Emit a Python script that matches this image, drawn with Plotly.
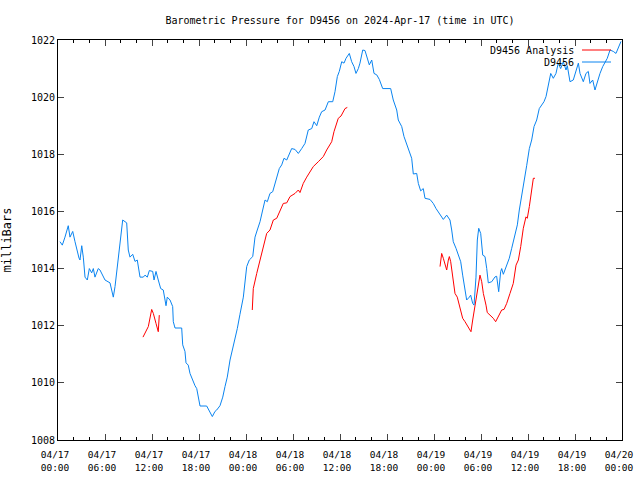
import pandas as pd
import plotly.graph_objects as go

# Hours since 2024-04-17 00:00 UTC and pressure (mb)
obs_hours = [0.26,0.55,0.89,1.31,1.53,1.88,2.17,2.39,2.68,2.81,3.03,3.23,3.45,3.74,4.0,4.30,4.51,4.72,5.14,5.36,
             6.0,6.64,7.06,7.28,7.70,8.0,8.26,8.77,8.97,9.19,9.54,9.83,10.12,10.47,10.89,11.11,11.40,11.66,12.09,12.26,
             12.51,12.80,13.11,13.44,13.79,13.95,14.30,14.64,14.72,14.94,15.79,15.92,16.21,16.34,16.63,16.85,17.07,17.49,17.71,17.91,
             18.13,18.98,19.40,19.70,20.04,20.26,20.68,21.03,21.32,21.61,21.96,22.30,22.60,22.89,23.23,23.66,24.09,24.42,24.86,25.15,
             25.44,25.79,26.13,26.43,26.72,27.06,27.41,27.70,28.0,28.25,28.56,28.85,29.20,29.53,29.83,30.26,30.68,31.11,31.53,31.95,
             32.39,32.68,33.03,33.36,33.66,34.09,34.51,35.07,35.36,35.66,35.91,36.22,36.51,36.77,37.19,37.49,37.79,38.04,38.34,38.55,
             38.90,39.19,39.49,39.74,40.05,40.34,40.69,41.02,41.45,42.47,42.80,43.24,43.44,43.88,44.17,44.51,44.94,45.15,45.36,45.79,
             46.0,46.30,46.63,46.85,47.49,47.91,48.26,48.68,48.98,49.19,49.62,50.04,50.26,50.46,50.81,51.10,51.41,51.66,51.96,52.17,
             52.51,52.68,52.94,53.11,53.36,53.53,53.71,53.96,54.22,54.51,54.73,54.93,55.37,55.79,56.0,56.08,56.26,56.51,56.64,56.85,
             57.19,57.61,57.92,58.34,58.64,58.89,59.20,59.49,59.83,60.17,60.47,60.77,61.11,61.44,61.75,62.04,62.30,62.59,62.90,63.23,
             63.57,63.86,64.17,64.51,64.85,65.02,65.36,65.78,66.22,66.43,66.64,67.06,67.40,67.70,67.91,68.26,68.55,68.85,69.19,69.54,
             69.83,70.12,70.47,70.89,71.23,71.53,71.74,71.87]
obs_mb = [1014.94,1014.82,1015.1,1015.5,1015.1,1015.3,1014.94,1014.65,1014.37,1014.3,1014.8,1014.4,1013.7,1013.6,1014.0,1013.85,1014.0,1013.7,1014.0,1013.95,
          1013.6,1013.5,1013.0,1013.37,1014.3,1015.0,1015.7,1015.6,1014.65,1014.4,1014.5,1014.25,1014.3,1013.7,1013.7,1013.77,1013.7,1013.93,1013.9,1013.6,
          1013.9,1013.6,1013.3,1013.25,1012.7,1013.0,1012.9,1012.67,1012.14,1011.92,1011.92,1011.33,1011.1,1010.7,1010.62,1010.33,1010.16,1009.9,1009.8,1009.52,
          1009.19,1009.19,1009.0,1008.82,1009.0,1009.05,1009.2,1009.5,1009.87,1010.2,1010.8,1011.2,1011.5,1011.9,1012.4,1013.0,1014.07,1014.3,1014.42,1015.1,
          1015.35,1015.64,1016.05,1016.4,1016.34,1016.63,1016.69,1016.98,1017.33,1017.5,1017.63,1017.86,1017.8,1018.03,1018.2,1018.17,1018.03,1018.2,1018.38,1018.85,
          1018.9,1019.14,1019.0,1019.3,1019.49,1019.55,1019.84,1019.84,1020.19,1020.72,1020.9,1021.24,1021.19,1021.36,1021.53,1021.24,1021.07,1020.83,1021.0,1021.19,
          1021.65,1021.63,1021.3,1021.13,1021.3,1020.83,1020.78,1020.62,1020.3,1020.3,1019.9,1019.55,1019.2,1018.97,1018.62,1018.33,1018.01,1017.86,1017.31,1017.33,
          1016.98,1016.72,1016.8,1016.46,1016.42,1016.28,1016.1,1015.93,1015.81,1015.72,1015.87,1015.7,1015.35,1014.94,1014.71,1014.47,1014.24,1013.77,1013.25,1012.9,
          1013.0,1013.07,1012.78,1012.72,1013.7,1015.0,1015.41,1015.23,1014.47,1014.42,1014.0,1013.5,1013.54,1013.71,1013.73,1013.48,1013.19,1013.89,1014.0,1013.8,
          1014.07,1014.36,1014.71,1015.23,1015.53,1016.05,1016.52,1016.98,1017.6,1018.2,1018.5,1018.97,1019.2,1019.6,1019.73,1019.84,1020.02,1020.37,1020.83,1020.66,
          1020.83,1021.19,1021.0,1021.24,1020.95,1021.1,1020.54,1020.6,1020.95,1021.19,1020.83,1020.54,1020.83,1020.9,1020.48,1020.6,1020.25,1020.54,1020.83,1021.07,
          1021.24,1021.36,1021.65,1021.6,1021.53,1021.7,1021.83,1021.95]

ana_hours = [10.85,11.53,11.96,12.17,12.51,12.80,12.93, None,
             24.80,24.93,25.37,25.79,26.21,26.64,27.06,27.49,27.92,28.34,28.76,29.20,29.62,30.26,30.68,30.89,31.31,31.75,32.17,32.59,
             33.23,33.87,34.30,34.94,35.23,35.78,36.13,36.64,36.93, None,
             48.77,48.98,49.19,49.40,49.62,49.83,49.96,50.13,50.39,50.68,50.97,51.32,51.66,51.96,52.38,52.72,52.94,53.23,53.53,53.87,
             54.09,54.30,54.64,54.80,55.15,55.57,55.87,56.20,56.64,56.94,57.28,57.70,58.12,58.47,58.77,59.07,59.40,59.74,59.91,60.17,
             60.47,60.68,60.89]
ana_mb = [1011.6,1011.97,1012.57,1012.43,1012.08,1011.79,1012.37, None,
          1012.55,1013.3,1013.83,1014.3,1014.77,1015.23,1015.35,1015.7,1015.76,1016.05,1016.28,1016.3,1016.52,1016.63,1016.75,1016.66,1016.98,1017.2,1017.39,1017.57,
          1017.74,1017.92,1018.15,1018.44,1018.79,1019.26,1019.34,1019.6,1019.64, None,
          1014.07,1014.53,1014.36,1014.12,1013.95,1014.3,1014.42,1014.24,1013.71,1013.13,1013.0,1012.67,1012.26,1012.14,1011.97,1011.79,1012.2,1012.73,1013.19,1013.77,
          1013.54,1013.13,1012.72,1012.46,1012.37,1012.26,1012.14,1012.32,1012.55,1012.57,1012.78,1013.13,1013.48,1014.12,1014.3,1014.77,1015.41,1015.81,1015.76,1016.17,
          1016.87,1017.16,1017.16]

start = pd.Timestamp("2024-04-17 00:00")
end = pd.Timestamp("2024-04-20 00:00")

def to_time(hs):
    return [None if h is None else start + pd.Timedelta(hours=h) for h in hs]

FONT = "DejaVu Sans Mono"
BLUE = "#0a84f0"
RED = "#ff0000"

W, H = 640, 480

fig = go.Figure()
fig.add_trace(go.Scatter(x=to_time(ana_hours), y=ana_mb, mode="lines", name="D9456 Analysis",
                         line=dict(color=RED, width=1), connectgaps=False))
fig.add_trace(go.Scatter(x=to_time(obs_hours), y=obs_mb, mode="lines", name="D9456",
                         line=dict(color=BLUE, width=1)))

fig.update_layout(
    width=W, height=H, showlegend=False,
    margin=dict(l=58, r=18, t=40, b=40, autoexpand=False),
    paper_bgcolor="white", plot_bgcolor="white",
    font=dict(family=FONT, size=10, color="black"),
    title=dict(text="Barometric Pressure for D9456 on 2024-Apr-17 (time in UTC)",
               x=0.5, xref="paper", y=1 - 20/H, yref="container", yanchor="middle",
               automargin=False, font=dict(family=FONT, size=10)),
)
fig.update_xaxes(range=[start, end], dtick=6*3600*1000, tick0=start,
                 tickformat="%m/%d<br>%H:%M", ticks="inside", ticklen=6,
                 tickfont=dict(family=FONT, size=9.5),
                 ticklabeloverflow="allow", ticklabelshift=-3, ticklabelstandoff=6,
                 showline=True, linecolor="black", linewidth=1, mirror="allticks",
                 showgrid=False, zeroline=False, automargin=False,
                 minor=dict(dtick=2*3600*1000, ticks="inside", ticklen=3, tickcolor="black"))
fig.update_yaxes(range=[1008, 1022], dtick=2, ticks="inside", ticklen=6,
                 ticklabeloverflow="allow",
                 showline=True, linecolor="black", linewidth=1, mirror="allticks",
                 showgrid=False, zeroline=False, automargin=False,
                 title=dict(text="milliBars", standoff=18))

# legend drawn gnuplot-style (text right-aligned, sample line on right)
legend_items = [("D9456 Analysis", RED, 50), ("D9456", BLUE, 62)]
for label, color, ypx in legend_items:
    yp = 1 - (ypx - 40) / 400
    fig.add_annotation(text=label, xref="paper", yref="paper", x=(576 - 58) / 564, y=yp,
                       xanchor="right", yanchor="middle", showarrow=False,
                       font=dict(family=FONT, size=10))
    fig.add_shape(type="line", xref="paper", yref="paper",
                  x0=(582 - 58) / 564, x1=(611 - 58) / 564, y0=yp, y1=yp,
                  line=dict(color=color, width=1))

fig.write_html("out.html", config={"displayModeBar": False},
               post_script="document.body.style.margin='0';document.body.style.overflow='hidden';")
